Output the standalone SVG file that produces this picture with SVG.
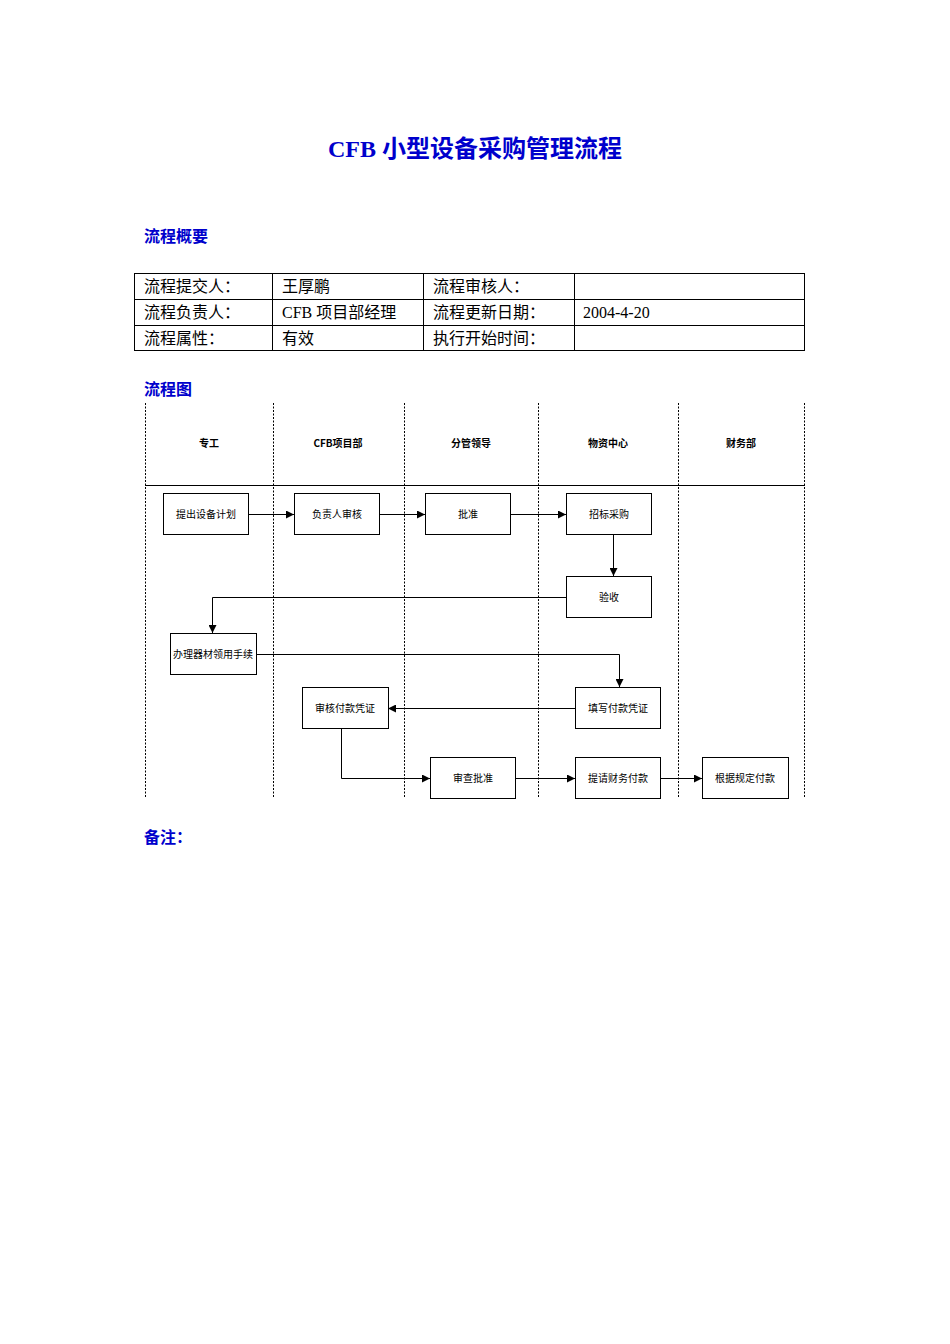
<svg xmlns="http://www.w3.org/2000/svg" width="950" height="1344" viewBox="0 0 950 1344">
<style>
.h{font-family:"Liberation Serif","Noto Sans CJK SC",serif;font-weight:bold;fill:#0000cc}
.t{font-family:"Liberation Serif","Noto Sans CJK SC",serif;font-size:16px;fill:#000}
.lane{stroke:#000;stroke-width:1;stroke-dasharray:2,1.5}
.b{fill:#fff;stroke:#000;stroke-width:1}
.n{font-family:"Noto Sans CJK SC",sans-serif;font-size:10px;text-anchor:middle;fill:#000}
.lh{font-family:"Noto Sans CJK SC",sans-serif;font-size:10px;font-weight:bold;text-anchor:middle}
.c{fill:none;stroke:#000;stroke-width:1;marker-end:url(#a)}
</style>
<defs><marker id="a" viewBox="0 0 8 8" refX="8" refY="4" markerWidth="8" markerHeight="8" markerUnits="userSpaceOnUse" orient="auto"><path d="M0,0L8,4L0,8z" fill="#000"/></marker></defs>
<rect width="950" height="1344" fill="#fff"/>
<text class="h" x="475" y="157" font-size="24" text-anchor="middle">CFB 小型设备采购管理流程</text>
<text class="h" x="144" y="242" font-size="16">流程概要</text>
<g stroke="#000" stroke-width="1" fill="none">
<rect x="134.5" y="273.5" width="670" height="77"/>
<line x1="134" y1="299.5" x2="805" y2="299.5"/><line x1="134" y1="325.5" x2="805" y2="325.5"/>
<line x1="272.5" y1="273" x2="272.5" y2="351"/><line x1="423.5" y1="273" x2="423.5" y2="351"/><line x1="574.5" y1="273" x2="574.5" y2="351"/>
</g>
<g class="t">
<text x="144" y="292">流程提交人：</text><text x="282" y="292">王厚鹏</text><text x="433" y="292">流程审核人：</text>
<text x="144" y="318">流程负责人：</text><text x="282" y="318">CFB 项目部经理</text><text x="433" y="318">流程更新日期：</text><text x="583" y="318">2004-4-20</text>
<text x="144" y="344">流程属性：</text><text x="282" y="344">有效</text><text x="433" y="344">执行开始时间：</text>
</g>
<text class="h" x="144" y="395" font-size="16">流程图</text>
<g id="lanes">
<line class="lane" x1="145.5" y1="403" x2="145.5" y2="798"/><line class="lane" x1="273.5" y1="403" x2="273.5" y2="798"/>
<line class="lane" x1="404.5" y1="403" x2="404.5" y2="798"/><line class="lane" x1="538.5" y1="403" x2="538.5" y2="798"/>
<line class="lane" x1="678.5" y1="403" x2="678.5" y2="798"/><line class="lane" x1="804.5" y1="403" x2="804.5" y2="798"/>
<line x1="145" y1="485.5" x2="805" y2="485.5" stroke="#000"/>
<text class="lh" x="209" y="447">专工</text><text class="lh" x="338" y="447">CFB项目部</text><text class="lh" x="471" y="447">分管领导</text>
<text class="lh" x="608" y="447">物资中心</text><text class="lh" x="741" y="447">财务部</text>
</g>
<g id="connectors">
<path class="c" d="M248,514.5H294"/><path class="c" d="M379,514.5H425"/><path class="c" d="M510,514.5H566"/>
<path class="c" d="M613.5,534V576"/><path class="c" d="M566,597.5H212.5V633"/>
<path class="c" d="M256,654.5H619.5V687"/><path class="c" d="M575,708.5H388"/>
<path class="c" d="M341.5,728V778.5H430"/><path class="c" d="M515,778.5H575"/><path class="c" d="M660,778.5H702"/>
</g>
<g id="n1"><rect class="b" x="163.5" y="493.5" width="85" height="41"/><text class="n" x="206" y="518">提出设备计划</text></g>
<g id="n2"><rect class="b" x="294.5" y="493.5" width="85" height="41"/><text class="n" x="337" y="518">负责人审核</text></g>
<g id="n3"><rect class="b" x="425.5" y="493.5" width="85" height="41"/><text class="n" x="468" y="518">批准</text></g>
<g id="n4"><rect class="b" x="566.5" y="493.5" width="85" height="41"/><text class="n" x="609" y="518">招标采购</text></g>
<g id="n5"><rect class="b" x="566.5" y="576.5" width="85" height="41"/><text class="n" x="609" y="601">验收</text></g>
<g id="n6"><rect class="b" x="170.5" y="633.5" width="86" height="41"/><text class="n" x="213" y="658">办理器材领用手续</text></g>
<g id="n7"><rect class="b" x="575.5" y="687.5" width="85" height="41"/><text class="n" x="618" y="712">填写付款凭证</text></g>
<g id="n8"><rect class="b" x="302.5" y="687.5" width="86" height="41"/><text class="n" x="345" y="712">审核付款凭证</text></g>
<g id="n9"><rect class="b" x="430.5" y="757.5" width="85" height="41"/><text class="n" x="473" y="782">审查批准</text></g>
<g id="n10"><rect class="b" x="575.5" y="757.5" width="85" height="41"/><text class="n" x="618" y="782">提请财务付款</text></g>
<g id="n11"><rect class="b" x="702.5" y="757.5" width="86" height="41"/><text class="n" x="745" y="782">根据规定付款</text></g>
<text class="h" x="144" y="843" font-size="16">备注：</text>
</svg>
